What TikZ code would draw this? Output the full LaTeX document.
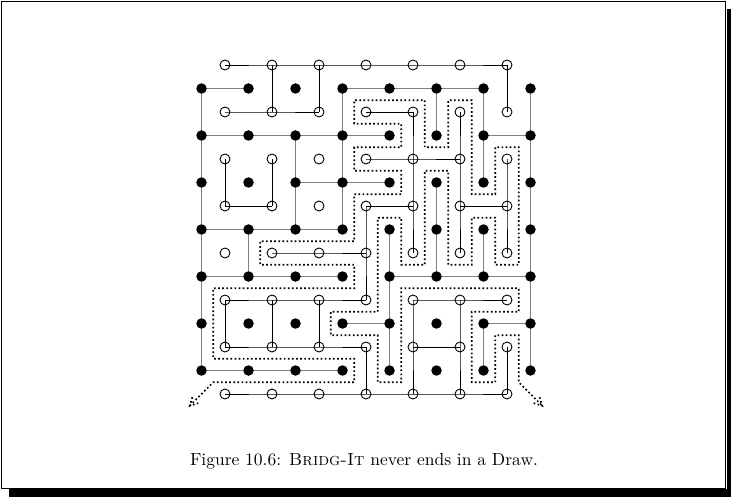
\documentclass[tikz,border=0pt]{standalone}
\usetikzlibrary{calc}
\pgfdeclarelayer{background}
\pgfsetlayers{background,main}
\newcommand\mychain[3]{\draw[#1] (#2.center) \foreach \n in {#3}{ -- (\n.center)};}
\begin{document}
\begin{tikzpicture}[x=1pt,y=-1pt,
  bdot/.style={circle,fill=black,inner sep=0pt,minimum size=10.5pt},
  wdot/.style={circle,draw=black,line width=0.9pt,inner sep=0pt,minimum size=10pt},
  bedge/.style={draw=black!50,line width=1.7pt},
  wedge/.style={draw=black,line width=0.9pt},
  pathdot/.style={line width=1.7pt,dash pattern=on 1.7pt off 2.4pt}]
\useasboundingbox (0,0) rectangle (731,497);
% frame with shadow
\fill[black] (9,489) rectangle (731,497);
\fill[black] (726.5,9) rectangle (731,497);
\draw[line width=0.8pt] (1.5,1.5) rectangle (725.5,488);
% caption
\node[anchor=base,inner sep=0pt,scale=1.75] (cap) at (364,465.5) {\fontsize{10}{12}\selectfont Figure 10.6: \textsc{Bridg-It} never ends in a Draw.};
\begin{scope}[shift={(201.5pt,-65pt)},x=23.5pt,y=-23.5pt]
  % black dots
  \foreach \i in {0,...,7}{\foreach \j in {0,...,6}{
    \node[bdot] (b-\i-\j) at ({2*\i},{2*\j+1}) {};}}
  % white circles
  \foreach \i in {0,...,6}{\foreach \j in {0,...,7}{
    \node[wdot] (w-\i-\j) at ({2*\i+1},{2*\j}) {};}}
  \begin{pgfonlayer}{background}
    % black player's bridges
    \mychain{bedge}{b-0-0}{b-1-0}
    \mychain{bedge}{b-3-0}{b-4-0,b-5-0,b-6-0}
    \mychain{bedge}{b-0-1}{b-1-1,b-2-1,b-3-1,b-4-1}
    \mychain{bedge}{b-6-1}{b-7-1}
    \mychain{bedge}{b-2-2}{b-3-2,b-4-2}
    \mychain{bedge}{b-0-3}{b-1-3,b-2-3,b-3-3}
    \mychain{bedge}{b-0-4}{b-1-4,b-2-4,b-3-4}
    \mychain{bedge}{b-4-4}{b-5-4,b-6-4,b-7-4}
    \mychain{bedge}{b-3-5}{b-4-5}
    \mychain{bedge}{b-6-5}{b-7-5}
    \mychain{bedge}{b-0-6}{b-1-6,b-2-6,b-3-6}
    \mychain{bedge}{b-0-0}{b-0-1,b-0-2,b-0-3,b-0-4,b-0-5,b-0-6}
    \mychain{bedge}{b-7-0}{b-7-1,b-7-2,b-7-3,b-7-4,b-7-5,b-7-6}
    \mychain{bedge}{b-1-3}{b-1-4}
    \mychain{bedge}{b-2-1}{b-2-2,b-2-3}
    \mychain{bedge}{b-3-0}{b-3-1,b-3-2,b-3-3}
    \mychain{bedge}{b-4-3}{b-4-4,b-4-5,b-4-6}
    \mychain{bedge}{b-5-0}{b-5-1}
    \mychain{bedge}{b-5-2}{b-5-3,b-5-4}
    \mychain{bedge}{b-6-0}{b-6-1,b-6-2}
    \mychain{bedge}{b-6-3}{b-6-4}
    \mychain{bedge}{b-6-5}{b-6-6}
    % white player's bridges
    \mychain{wedge}{w-0-0}{w-1-0,w-2-0,w-3-0,w-4-0,w-5-0,w-6-0}
    \mychain{wedge}{w-0-1}{w-1-1,w-2-1}
    \mychain{wedge}{w-3-1}{w-4-1}
    \mychain{wedge}{w-3-2}{w-4-2,w-5-2}
    \mychain{wedge}{w-0-3}{w-1-3}
    \mychain{wedge}{w-3-3}{w-4-3}
    \mychain{wedge}{w-5-3}{w-6-3}
    \mychain{wedge}{w-1-4}{w-2-4,w-3-4}
    \mychain{wedge}{w-0-5}{w-1-5,w-2-5,w-3-5}
    \mychain{wedge}{w-4-5}{w-5-5,w-6-5}
    \mychain{wedge}{w-0-6}{w-1-6,w-2-6,w-3-6}
    \mychain{wedge}{w-4-6}{w-5-6}
    \mychain{wedge}{w-0-7}{w-1-7,w-2-7,w-3-7,w-4-7,w-5-7,w-6-7}
    \mychain{wedge}{w-0-2}{w-0-3}
    \mychain{wedge}{w-0-5}{w-0-6}
    \mychain{wedge}{w-1-0}{w-1-1}
    \mychain{wedge}{w-1-2}{w-1-3}
    \mychain{wedge}{w-1-5}{w-1-6}
    \mychain{wedge}{w-2-0}{w-2-1}
    \mychain{wedge}{w-2-5}{w-2-6}
    \mychain{wedge}{w-3-3}{w-3-4,w-3-5}
    \mychain{wedge}{w-3-6}{w-3-7}
    \mychain{wedge}{w-4-1}{w-4-2,w-4-3,w-4-4}
    \mychain{wedge}{w-4-5}{w-4-6,w-4-7}
    \mychain{wedge}{w-5-1}{w-5-2,w-5-3,w-5-4}
    \mychain{wedge}{w-5-5}{w-5-6,w-5-7}
    \mychain{wedge}{w-6-0}{w-6-1}
    \mychain{wedge}{w-6-2}{w-6-3,w-6-4}
    \mychain{wedge}{w-6-6}{w-6-7}
  \end{pgfonlayer}
  % dotted boundary path
  \coordinate (ps) at (-0.5,14.5);
  \coordinate (p0) at (0.5,13.5);
  \coordinate (pn) at (13.5,13.5);
  \coordinate (pe) at (14.5,14.5);
  \draw[pathdot] (ps) -- (p0) -- (6.5,13.5) -- (6.5,12.5) -- (0.5,12.5) -- (0.5,9.5)
    -- (6.5,9.5) -- (6.5,8.5) -- (2.5,8.5) -- (2.5,7.5) -- (6.5,7.5) -- (6.5,5.5)
    -- (8.5,5.5) -- (8.5,4.5) -- (6.5,4.5) -- (6.5,3.5) -- (8.5,3.5) -- (8.5,2.5)
    -- (6.5,2.5) -- (6.5,1.5) -- (9.5,1.5) -- (9.5,3.5) -- (10.5,3.5) -- (10.5,1.5)
    -- (11.5,1.5) -- (11.5,5.5) -- (12.5,5.5) -- (12.5,3.5) -- (13.5,3.5) -- (13.5,8.5)
    -- (12.5,8.5) -- (12.5,6.5) -- (11.5,6.5) -- (11.5,8.5) -- (10.5,8.5) -- (10.5,4.5)
    -- (9.5,4.5) -- (9.5,8.5) -- (8.5,8.5) -- (8.5,6.5) -- (7.5,6.5) -- (7.5,10.5)
    -- (5.5,10.5) -- (5.5,11.5) -- (7.5,11.5) -- (7.5,13.5) -- (8.5,13.5) -- (8.5,9.5)
    -- (13.5,9.5) -- (13.5,10.5) -- (11.5,10.5) -- (11.5,13.5) -- (12.5,13.5)
    -- (12.5,11.5) -- (13.5,11.5) -- (pn) -- (pe);
  \draw[pathdot] ($(ps)!9pt!28:(p0)$) -- (ps) -- ($(ps)!9pt!-28:(p0)$);
  \draw[pathdot] ($(pe)!9pt!28:(pn)$) -- (pe) -- ($(pe)!9pt!-28:(pn)$);
\end{scope}
\end{tikzpicture}
\end{document}
